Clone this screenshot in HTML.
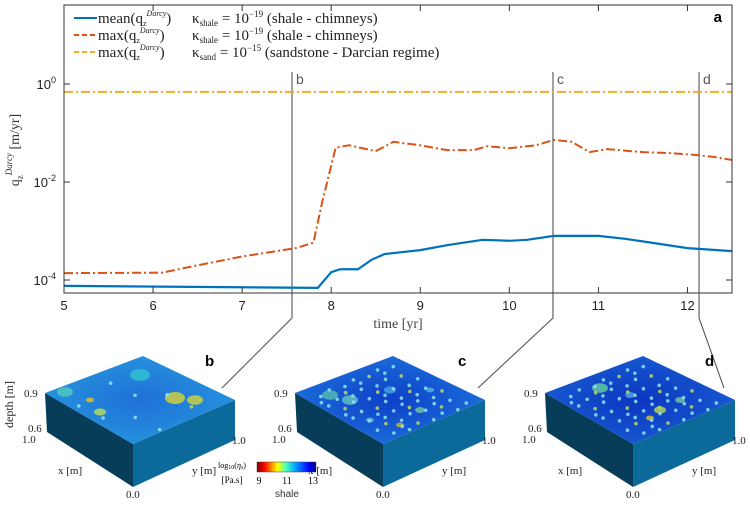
<!DOCTYPE html>
<html><head><meta charset="utf-8">
<style>
body{margin:0;background:#fff;width:750px;height:531px;overflow:hidden}
svg{display:block}
text{font-family:"Liberation Serif",serif}
.sans{font-family:"Liberation Sans",sans-serif}
</style></head>
<body>
<svg id="fig" width="750" height="531" viewBox="0 0 750 531">
<defs>
<linearGradient id="jet" x1="0" x2="1" y1="0" y2="0">
<stop offset="0" stop-color="#800000"/><stop offset="0.12" stop-color="#ff0000"/>
<stop offset="0.35" stop-color="#ffff00"/><stop offset="0.5" stop-color="#40ffc0"/>
<stop offset="0.65" stop-color="#00a0ff"/><stop offset="0.88" stop-color="#0000ff"/>
<stop offset="1" stop-color="#000080"/></linearGradient>
<radialGradient id="topB" cx="0.5" cy="0.5" r="0.7"><stop offset="0" stop-color="#1f70d8"/><stop offset="0.7" stop-color="#2590dc"/><stop offset="1" stop-color="#40b8d8"/></radialGradient>
<radialGradient id="topC" cx="0.5" cy="0.5" r="0.7"><stop offset="0" stop-color="#0e3fc8"/><stop offset="0.7" stop-color="#1a6ad8"/><stop offset="1" stop-color="#38a8d0"/></radialGradient>
<radialGradient id="topD" cx="0.5" cy="0.5" r="0.7"><stop offset="0" stop-color="#0c36c0"/><stop offset="0.7" stop-color="#1657d0"/><stop offset="1" stop-color="#2e92cc"/></radialGradient>
</defs>
<g id="chart"></g>
<g id="blocks"></g>
<g>
<rect x="257" y="462" width="59" height="10" fill="url(#jet)" stroke="#444" stroke-width="0.5"/>
<text x="232" y="468" font-size="8" text-anchor="middle">log<tspan font-size="6" dy="1">10</tspan><tspan dy="-1">(</tspan><tspan font-style="italic">η<tspan font-size="6" dy="1">s</tspan></tspan><tspan dy="-1">)</tspan></text>
<text x="232" y="483" font-size="9" text-anchor="middle">[Pa.s]</text>
<text x="259" y="484" font-size="10" text-anchor="middle">9</text>
<text x="287" y="484" font-size="10" text-anchor="middle">11</text>
<text x="313" y="484" font-size="10" text-anchor="middle">13</text>
<text x="287" y="497" font-size="10" text-anchor="middle" class="sans" fill="#333">shale</text>
</g>
</svg>
<script>
const xTicks=[5,6,7,8,9,10,11,12];
const yTickExp=[0,-2,-4];
const redT=[5,6.1,6.5,7,7.6,7.8,7.9,8.05,8.2,8.5,8.7,9,9.3,9.6,9.75,10,10.3,10.5,10.7,10.9,11.1,11.5,11.8,12.1,12.3,12.5];
const redLog=[-3.86,-3.85,-3.7,-3.52,-3.35,-3.24,-2.4,-1.3,-1.25,-1.37,-1.18,-1.25,-1.35,-1.35,-1.27,-1.31,-1.25,-1.14,-1.18,-1.39,-1.33,-1.39,-1.41,-1.45,-1.49,-1.55];
const blueT=[5,7.85,8.0,8.1,8.3,8.45,8.6,8.8,9.0,9.3,9.7,10.0,10.2,10.5,10.8,11.0,11.3,11.6,12.0,12.5];
const blueLog=[-4.12,-4.16,-3.84,-3.78,-3.78,-3.59,-3.47,-3.43,-3.39,-3.29,-3.18,-3.2,-3.18,-3.1,-3.1,-3.1,-3.16,-3.24,-3.35,-3.41];
const sandLog=[-0.16,-0.16];
const sandT=[5,12.5];
const markerT=[7.56,10.49,12.13];
const markerLabels=['b','c','d'];

const NS='http://www.w3.org/2000/svg';
const X0=64,X1=732,Y0=5,Y1=293;
const xs=t=>X0+(t-5)/(7.5)*(X1-X0);
const ys=l=>84-l*49;
function mk(tag,at,parent){const e=document.createElementNS(NS,tag);for(const k in at)e.setAttribute(k,at[k]);parent.appendChild(e);return e;}
const g=document.getElementById('chart');
markerT.forEach((t,i)=>{
 const x=xs(t);const ex=[222,478,724][i];
 const p=mk('polyline',{points:`${x},72 ${x},318 ${ex},388`,fill:'none',stroke:'#555','stroke-width':1.1},g);
 
 
 const tx=mk('text',{x:x+4,y:84,'font-size':14,fill:'#555',class:'sans'},g);tx.textContent=markerLabels[i];
 
 
});
function line(T,L,attrs,name){
 const pts=T.map((t,i)=>xs(t)+','+ys(L[i])).join(' ');
 const p=mk('polyline',Object.assign({points:pts,fill:'none'},attrs),g);
 
 
}
line(sandT,sandLog,{stroke:'#edb120','stroke-width':2,'stroke-dasharray':'9,3,2,3'},'sand-max-line');
line(redT,redLog,{stroke:'#d95319','stroke-width':2,'stroke-dasharray':'9,3,2,3'},'shale-max-line');
line(blueT,blueLog,{stroke:'#0072bd','stroke-width':2.2},'shale-mean-line');
const box=mk('rect',{x:X0,y:Y0,width:X1-X0,height:Y1-Y0,fill:'none',stroke:'#333','stroke-width':1},g);


xTicks.forEach(t=>{const x=xs(t);
 mk('line',{x1:x,x2:x,y1:Y1,y2:Y1-6,stroke:'#333'},g);mk('line',{x1:x,x2:x,y1:Y0,y2:Y0+6,stroke:'#333'},g);
 const tx=mk('text',{x:x,y:310,'font-size':13,'text-anchor':'middle',class:'sans',fill:'#222'},g);tx.textContent=t;
 
 
});
yTickExp.forEach(e=>{const y=ys(e);
 mk('line',{x1:X0,x2:X0+6,y1:y,y2:y,stroke:'#333'},g);mk('line',{x1:X1,x2:X1-6,y1:y,y2:y,stroke:'#333'},g);
 const tx=mk('text',{x:X0-8,y:y+5,'font-size':13,'text-anchor':'end',class:'sans',fill:'#222'},g);
 tx.innerHTML='10<tspan font-size="9" dy="-6">'+e+'</tspan>';
 
 
});
const xt=mk('text',{x:398,y:328,'font-size':14,'text-anchor':'middle',fill:'#444'},g);xt.textContent='time [yr]';


const yt=mk('text',{x:0,y:0,'font-size':14,'text-anchor':'middle',fill:'#333',transform:'translate(19,150) rotate(-90)'},g);
yt.innerHTML='q<tspan font-size="9" dy="4">z</tspan><tspan font-size="9" font-style="italic" dy="-11">Darcy</tspan><tspan dy="7"> [m/yr]</tspan>';


const pa=mk('text',{x:722,y:22,'font-size':15,'font-weight':'bold','text-anchor':'end',class:'sans'},g);pa.textContent='a';


const leg=[['#0072bd','none','mean','κ<tspan font-size="9" dy="3">shale</tspan><tspan dy="-3"> = 10</tspan><tspan font-size="9" dy="-6">−19</tspan><tspan dy="6"> (shale - chimneys)</tspan>'],
['#d95319','5,3','max','κ<tspan font-size="9" dy="3">shale</tspan><tspan dy="-3"> = 10</tspan><tspan font-size="9" dy="-6">−19</tspan><tspan dy="6"> (shale - chimneys)</tspan>'],
['#edb120','5,3','max','κ<tspan font-size="9" dy="3">sand</tspan><tspan dy="-3"> = 10</tspan><tspan font-size="9" dy="-6">−15</tspan><tspan dy="6"> (sandstone - Darcian regime)</tspan>']];
leg.forEach((L,i)=>{const y=18+i*17;
 const gl=mk('g',{},g);
 
 
 mk('line',{x1:74,x2:97,y1:y,y2:y,stroke:L[0],'stroke-width':2,'stroke-dasharray':L[1]},gl);
 const t=mk('text',{x:98,y:y+5,'font-size':15,fill:'#222'},gl);
 t.innerHTML=L[2]+'(q<tspan font-size="8" dy="3">z</tspan><tspan font-size="8" font-style="italic" dy="-10">Darcy</tspan><tspan dy="7">)</tspan>';
 const t2=mk('text',{x:192,y:y+5,'font-size':15,fill:'#222'},gl);t2.innerHTML=L[3];
});
const bg=document.getElementById('blocks');
const fills=['url(#topB)','url(#topC)','url(#topD)'];
const spots=[[[-50,0,'#e0c020',4],[35,-2,'#d0d040',10],[55,0,'#c8d040',8],[-40,12,'#b0d860',6],[0,-25,'#30c0d0',10],[-75,-8,'#50c8c0',8]],
 [[-40,0,'#60c0c0',8],[0,-10,'#40a0e0',6],[30,10,'#70c0a0',5],[10,25,'#c0b040',4],[-20,20,'#60b0e0',4],[40,-10,'#50b0e0',4],[-60,-5,'#50b8b0',8]],
 [[-40,-12,'#60c8a0',8],[20,10,'#b0d060',6],[10,18,'#d0c040',4],[-10,-5,'#50a0e0',5],[40,0,'#70c0a0',5]]];
['b','c','d'].forEach((lab,i)=>{const o=i*250;
 const gb=mk('g',{transform:`translate(${o},0)`},bg);
 
 
 mk('polygon',{points:'45,393 133,444 133,487 47,432',fill:'#073d58'},gb);
 mk('polygon',{points:'133,444 235,400 235,440 133,487',fill:'#0b6a9a'},gb);
 mk('polygon',{points:'45,393 143,356 235,400 133,444',fill:fills[i]},gb);
 spots[i].forEach(s=>mk('ellipse',{cx:140+s[0],cy:400+s[1],rx:s[3],ry:s[3]*0.6,fill:s[2],opacity:0.85},gb));
 const n=i?60:8;
 for(let k=1;k<=n;k++){const u=0.05+0.9*((k*0.7548777)%1),v=0.05+0.9*((k*0.5698403)%1);
  const x=45+u*98+v*90, y=393-u*37+v*51;
  mk('circle',{cx:x,cy:y,r:1.8,fill:(k%5==0?'#c0d860':'#8ee0f0'),opacity:0.85},gb);}
 const L=(t,x,y,a)=>{const e=mk('text',Object.assign({x:x,y:y,'font-size':11,fill:'#222'},a||{}),gb);e.textContent=t;return e;};
 L('0.9',24,397);L('0.6',28,432);L('1.0',22,443);L('x [m]',58,474);L('y [m]',192,474);L('1.0',232,444);L('0.0',126,498);
 if(i===0)L('depth [m]',0,0,{transform:'translate(13,428) rotate(-90)','font-size':12});
 const pl=mk('text',{x:205+(i==1?3:0),y:366,'font-size':15,'font-weight':'bold',class:'sans'},gb);pl.textContent=lab;
});
</script>
</body></html>
